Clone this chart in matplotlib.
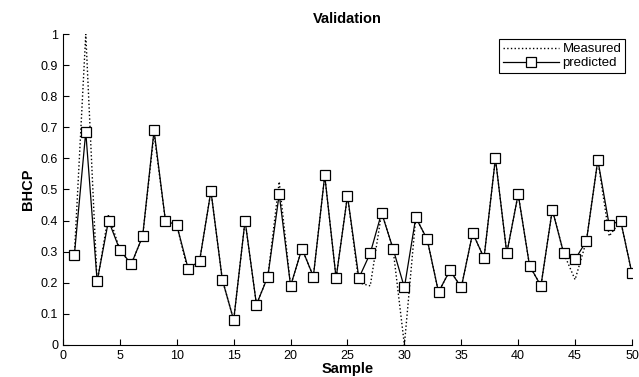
import matplotlib
matplotlib.use("Agg")
import matplotlib.pyplot as plt
import numpy as np

plt.rcParams["font.family"] = ["Liberation Sans", "DejaVu Sans"]

samples = np.arange(1, 51)
predicted = [0.29, 0.685, 0.205, 0.40, 0.305, 0.26, 0.35, 0.69, 0.40, 0.385,
             0.245, 0.27, 0.495, 0.21, 0.08, 0.40, 0.13, 0.22, 0.485, 0.19,
             0.31, 0.22, 0.545, 0.215, 0.48, 0.215, 0.295, 0.425, 0.31, 0.185,
             0.41, 0.34, 0.17, 0.24, 0.185, 0.36, 0.28, 0.60, 0.295, 0.485,
             0.255, 0.19, 0.435, 0.295, 0.275, 0.335, 0.595, 0.385, 0.40, 0.23]
measured = [0.29, 1.00, 0.20, 0.42, 0.305, 0.26, 0.35, 0.68, 0.40, 0.385,
            0.235, 0.27, 0.495, 0.21, 0.08, 0.40, 0.13, 0.22, 0.525, 0.19,
            0.31, 0.22, 0.545, 0.215, 0.48, 0.20, 0.19, 0.425, 0.31, 0.0,
            0.41, 0.34, 0.17, 0.24, 0.185, 0.36, 0.28, 0.60, 0.295, 0.485,
            0.255, 0.19, 0.435, 0.295, 0.21, 0.335, 0.595, 0.35, 0.40, 0.23]

fig = plt.figure(figsize=(6.39, 3.77), dpi=100)
ax = fig.add_axes([0.0986, 0.085, 0.8904, 0.8248])

ax.plot(samples, measured, color="black", linestyle=":", linewidth=1.0,
        label="Measured")
ax.plot(samples, predicted, color="black", linestyle="-", linewidth=0.9,
        marker="s", markersize=6.5, markerfacecolor="white",
        markeredgecolor="black", markeredgewidth=0.9, label="predicted")

ax.set_xlim(0, 50)
ax.set_ylim(0, 1)
ax.set_xticks(np.arange(0, 51, 5))
ax.set_yticks(np.arange(0, 1.01, 0.1))
ax.set_yticklabels(["0", "0.1", "0.2", "0.3", "0.4", "0.5", "0.6", "0.7",
                    "0.8", "0.9", "1"])
ax.tick_params(direction="in", length=4, labelsize=9, width=0.8)
ax.spines["top"].set_visible(False)
ax.spines["right"].set_visible(False)

ax.set_title("Validation", fontsize=10.5, fontweight="bold", pad=8)
ax.set_xlabel("Sample", fontsize=10.5, fontweight="bold", labelpad=0)
ax.set_ylabel("BHCP", fontsize=10.5, fontweight="bold", labelpad=4)

leg = ax.legend(loc="upper right", fontsize=9.5, fancybox=False,
                framealpha=1, edgecolor="black", borderpad=0.3,
                handlelength=4.2, handletextpad=0.3, labelspacing=0.15,
                bbox_to_anchor=(1.0, 1.005))
leg.get_frame().set_linewidth(0.8)

fig.savefig("out.png", dpi=100)
